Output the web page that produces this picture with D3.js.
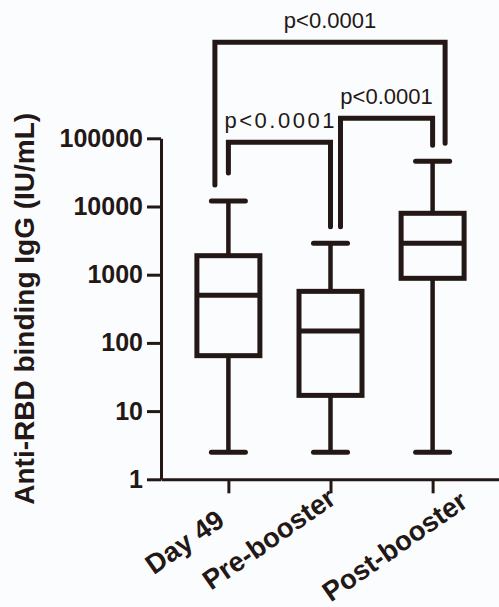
<!DOCTYPE html>
<html>
<head>
<meta charset="utf-8">
<script src="https://cdn.jsdelivr.net/npm/d3@7"></script>
<style>
  body { margin: 0; background: #fbfcfe; }
  svg { display: block; }
</style>
</head>
<body>
<div id="chart"></div>
<script>
// groups and box statistics (log scale)
var groups = ["Day 49", "Pre-booster", "Post-booster"];
var whiskerLow = [2.5, 2.5, 2.5];
var q1 = [65, 17, 885];
var median = [500, 150, 2900];
var q3 = [1900, 570, 7950];
var whiskerHigh = [12000, 2900, 46000];

// y ticks
var yTicks = [1, 10, 100, 1000, 10000, 100000];

// pairwise comparisons
var compareFrom = ["Day 49", "Pre-booster", "Day 49"];
var compareTo = ["Pre-booster", "Post-booster", "Post-booster"];
var pLabels = ["p<0.0001", "p<0.0001", "p<0.0001"];

var ink = "#231815";
var W = 499, H = 607;

var svg = d3.select("#chart").append("svg")
    .attr("width", W)
    .attr("height", H)
    .style("background", "#fbfcfe");

var x = d3.scalePoint()
    .domain(groups)
    .range([161, 500])
    .padding(0.66);

var y = d3.scaleLog()
    .domain([1, 100000])
    .range([479.3, 138.3]);

var data = groups.map(function(g, i) {
  return {name: g, lo: whiskerLow[i], q1: q1[i], med: median[i], q3: q3[i], hi: whiskerHigh[i]};
});

// y axis
var yAxis = svg.append("g")
    .attr("transform", "translate(161,0)")
    .call(d3.axisLeft(y).tickValues(yTicks).tickFormat(d3.format("d"))
      .tickSize(14).tickSizeOuter(0).tickPadding(4));
yAxis.selectAll("path, line").attr("stroke", ink).attr("stroke-width", 3);
yAxis.selectAll("text")
    .attr("fill", ink)
    .style("font-family", "'Liberation Sans', Arial, sans-serif")
    .style("font-size", "25px")
    .style("font-weight", "bold");

// x axis
var xAxis = svg.append("g")
    .attr("transform", "translate(0,479.3)")
    .call(d3.axisBottom(x).tickSize(14).tickSizeOuter(0).tickFormat(""));
xAxis.selectAll("path, line").attr("stroke", ink).attr("stroke-width", 3);

// x labels, rotated; small nudges to follow the original placement
var labelNudge = {"Day 49": [-2, 45], "Pre-booster": [7, 23], "Post-booster": [37, 26]};
svg.append("g").selectAll("text")
    .data(groups)
  .enter().append("text")
    .attr("transform", function(d) {
      return "translate(" + (x(d) + labelNudge[d][0]) + "," + (479.3 + labelNudge[d][1]) + ") rotate(-35)";
    })
    .attr("text-anchor", "end")
    .attr("fill", ink)
    .style("font-family", "'Liberation Sans', Arial, sans-serif")
    .style("font-size", "27.5px")
    .style("font-weight", "bold")
    .text(function(d) { return d; });

// y title
svg.append("text")
    .attr("transform", "translate(34," + ((138.3 + 479.3) / 2) + ") rotate(-90)")
    .attr("text-anchor", "middle")
    .attr("fill", ink)
    .style("font-family", "'Liberation Sans', Arial, sans-serif")
    .style("font-size", "28px")
    .style("font-weight", "bold")
    .text("Anti-RBD binding IgG (IU/mL)");

// boxes
var halfBox = 31.5, halfCap = 17;
var boxes = svg.append("g").attr("stroke", ink).attr("fill", "none");

boxes.selectAll(".whisker-up")
    .data(data)
  .enter().append("line")
    .attr("x1", function(d) { return x(d.name); })
    .attr("x2", function(d) { return x(d.name); })
    .attr("y1", function(d) { return y(d.q3); })
    .attr("y2", function(d) { return y(d.hi); })
    .attr("stroke-width", 4.5);

boxes.selectAll(".whisker-down")
    .data(data)
  .enter().append("line")
    .attr("x1", function(d) { return x(d.name); })
    .attr("x2", function(d) { return x(d.name); })
    .attr("y1", function(d) { return y(d.q1); })
    .attr("y2", function(d) { return y(d.lo); })
    .attr("stroke-width", 4.5);

boxes.selectAll(".cap")
    .data(data.flatMap(function(d) { return [{name: d.name, v: d.hi}, {name: d.name, v: d.lo}]; }))
  .enter().append("line")
    .attr("x1", function(d) { return x(d.name) - halfCap; })
    .attr("x2", function(d) { return x(d.name) + halfCap; })
    .attr("y1", function(d) { return y(d.v); })
    .attr("y2", function(d) { return y(d.v); })
    .attr("stroke-width", 5)
    .attr("stroke-linecap", "round");

boxes.selectAll(".box")
    .data(data)
  .enter().append("rect")
    .attr("x", function(d) { return x(d.name) - halfBox; })
    .attr("width", halfBox * 2)
    .attr("y", function(d) { return y(d.q3); })
    .attr("height", function(d) { return y(d.q1) - y(d.q3); })
    .attr("fill", "#fbfcfe")
    .attr("stroke-width", 5);

boxes.selectAll(".median")
    .data(data)
  .enter().append("line")
    .attr("x1", function(d) { return x(d.name) - halfBox; })
    .attr("x2", function(d) { return x(d.name) + halfBox; })
    .attr("y1", function(d) { return y(d.med); })
    .attr("y2", function(d) { return y(d.med); })
    .attr("stroke-width", 5);

// significance brackets
var hiOf = {};
data.forEach(function(d) { hiOf[d.name] = d.hi; });
var bracketTop = [y(100000) + 4, y(100000) - 20, y(100000) - 96];
var legShift = [[0, 0], [10, 0], [-13.5, 12.5]];
var legGap = [[28, 16.5], [16.5, 16], [16, 18]];
var spacing = [2.5, 0, 0];

var brackets = svg.append("g");
compareFrom.forEach(function(a, i) {
  var b = compareTo[i];
  var xa = x(a) + legShift[i][0], xb = x(b) + legShift[i][1];
  var ya = y(hiOf[a]) - legGap[i][0], yb = y(hiOf[b]) - legGap[i][1];
  var top = bracketTop[i];
  brackets.append("path")
      .attr("d", "M" + xa + "," + ya + "V" + top + "H" + xb + "V" + yb)
      .attr("fill", "none")
      .attr("stroke", ink)
      .attr("stroke-width", 5)
      .attr("stroke-linecap", "round");
  brackets.append("text")
      .attr("x", (xa + xb) / 2 + spacing[i] / 2)
      .attr("y", top - 14)
      .attr("text-anchor", "middle")
      .attr("fill", ink)
      .style("font-family", "'Liberation Sans', Arial, sans-serif")
      .style("font-size", "22px")
      .style("letter-spacing", spacing[i] + "px")
      .text(pLabels[i]);
});
</script>
</body>
</html>
